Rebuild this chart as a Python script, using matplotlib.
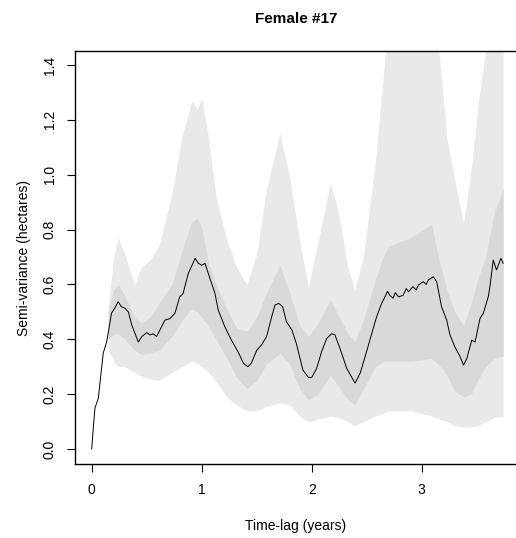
import numpy as np
import matplotlib
matplotlib.use('Agg')
import matplotlib.pyplot as plt

plt.rcParams['font.family'] = ['Liberation Sans', 'DejaVu Sans']

lag = [0, 0.015, 0.03, 0.06, 0.105, 0.136, 0.18, 0.21, 0.24, 0.27, 0.303, 0.333,
       0.364, 0.424, 0.455, 0.50, 0.53, 0.56, 0.59, 0.62, 0.666, 0.71, 0.757, 0.80,
       0.83, 0.878, 0.94, 0.97, 1.0, 1.03, 1.06, 1.12, 1.15, 1.21, 1.27, 1.33, 1.38,
       1.42, 1.45, 1.50, 1.545, 1.59, 1.636, 1.666, 1.70, 1.736, 1.77, 1.82, 1.86,
       1.92, 1.97, 2.0, 2.045, 2.09, 2.136, 2.18, 2.21, 2.257, 2.318, 2.394, 2.44,
       2.485, 2.545, 2.59, 2.636, 2.666, 2.69, 2.71, 2.74, 2.76, 2.79, 2.83, 2.86, 2.88,
       2.92, 2.95, 2.97, 3.015, 3.04, 3.06, 3.105, 3.136, 3.18, 3.227, 3.257, 3.30, 3.35,
       3.38, 3.41, 3.455, 3.485, 3.53, 3.56, 3.605, 3.62, 3.65, 3.68, 3.72, 3.74]
semivar = [0.0, 0.08, 0.15, 0.185, 0.35, 0.39, 0.495, 0.514, 0.537, 0.519, 0.513, 0.50,
           0.452, 0.39, 0.41, 0.424, 0.416, 0.42, 0.41, 0.434, 0.47, 0.475, 0.495, 0.555,
           0.566, 0.64, 0.695, 0.677, 0.67, 0.677, 0.64, 0.568, 0.507, 0.446, 0.397, 0.355, 0.312,
           0.30, 0.312, 0.36, 0.38, 0.41, 0.482, 0.525, 0.531, 0.519, 0.464, 0.434, 0.385,
           0.288, 0.261, 0.261, 0.294, 0.355, 0.403, 0.42, 0.417, 0.367, 0.294, 0.24, 0.276,
           0.336, 0.42, 0.482, 0.531, 0.555, 0.575, 0.56, 0.55, 0.57, 0.555, 0.56, 0.585, 0.573,
           0.592, 0.58, 0.598, 0.61, 0.60, 0.616, 0.628, 0.61, 0.519, 0.47, 0.416, 0.373, 0.336,
           0.306, 0.33, 0.397, 0.39, 0.476, 0.495, 0.555, 0.592, 0.689, 0.653, 0.695, 0.677]

# confidence bands
band_x = [0.15, 0.20, 0.24, 0.30, 0.39, 0.45, 0.53, 0.61, 0.73, 0.82, 0.91, 0.96, 1.00,
          1.06, 1.13, 1.23, 1.32, 1.41, 1.50, 1.59, 1.71, 1.80, 1.89, 1.97, 2.06, 2.17,
          2.24, 2.33, 2.39, 2.47, 2.58, 2.65, 2.70, 2.90, 3.09, 3.15, 3.23, 3.30, 3.38,
          3.45, 3.51, 3.58, 3.66, 3.74]
outer_hi = [0.52, 0.70, 0.77, 0.71, 0.60, 0.66, 0.69, 0.74, 0.93, 1.14, 1.27, 1.24, 1.28,
            1.14, 0.92, 0.76, 0.66, 0.60, 0.71, 0.95, 1.15, 0.99, 0.76, 0.59, 0.76, 0.97,
            0.87, 0.66, 0.58, 0.70, 1.05, 1.35, 1.60, 1.70, 1.65, 1.48, 1.13, 0.98, 0.82,
            1.02, 1.25, 1.45, 1.60, 1.60]
outer_lo = [0.36, 0.32, 0.30, 0.30, 0.28, 0.265, 0.255, 0.25, 0.28, 0.30, 0.32, 0.31, 0.30,
            0.28, 0.245, 0.19, 0.16, 0.14, 0.14, 0.155, 0.17, 0.16, 0.12, 0.10, 0.11, 0.12,
            0.115, 0.10, 0.085, 0.10, 0.12, 0.13, 0.14, 0.14, 0.12, 0.11, 0.10, 0.085, 0.08,
            0.08, 0.085, 0.10, 0.115, 0.12]
inner_hi = [0.50, 0.58, 0.60, 0.56, 0.48, 0.46, 0.48, 0.53, 0.60, 0.72, 0.83, 0.84, 0.81,
            0.68, 0.60, 0.51, 0.44, 0.43, 0.48, 0.57, 0.67, 0.57, 0.45, 0.41, 0.46, 0.545,
            0.49, 0.42, 0.39, 0.47, 0.62, 0.70, 0.74, 0.77, 0.82, 0.70, 0.58, 0.50, 0.45,
            0.53, 0.62, 0.70, 0.86, 0.95]
inner_lo = [0.40, 0.42, 0.42, 0.40, 0.36, 0.345, 0.35, 0.36, 0.41, 0.47, 0.51, 0.50, 0.48,
            0.45, 0.40, 0.33, 0.26, 0.22, 0.25, 0.31, 0.35, 0.31, 0.22, 0.18, 0.20, 0.27,
            0.23, 0.18, 0.16, 0.22, 0.30, 0.32, 0.32, 0.32, 0.33, 0.31, 0.27, 0.21, 0.19,
            0.20, 0.25, 0.30, 0.33, 0.34]

yticks = [0.0, 0.2, 0.4, 0.6, 0.8, 1.0, 1.2, 1.4]
xticks = [0, 1, 2, 3]

fig = plt.figure(figsize=(5.16, 5.38), dpi=100)
ax = fig.add_axes([0.1453, 0.1375, 0.8566, 0.7677])

ax.fill_between(band_x, outer_lo, outer_hi, color='#e9e9e9', lw=0)
ax.fill_between(band_x, inner_lo, inner_hi, color='#d9d9d9', lw=0)
ax.plot(lag, semivar, color='black', lw=0.7)

ax.set_xlim(-0.152, 3.866)
ax.set_ylim(-0.0547, 1.451)
ax.set_xticks(xticks)
ax.set_xticklabels([str(t) for t in xticks])
ax.set_yticks(yticks)
ax.set_yticklabels(['%.1f' % t for t in yticks], rotation=90, va='center')
ax.tick_params(direction='out', length=6, width=0.8, labelsize=10, colors='black')
ax.tick_params(axis='x', pad=8)
ax.tick_params(axis='y', pad=7)
for s in ax.spines.values():
    s.set_linewidth(1.0)

fig.text(0.5736, 0.965, 'Female #17', ha='center', va='center', fontsize=11, fontweight='bold')
fig.text(0.5736, 0.022, 'Time-lag (years)', ha='center', va='center', fontsize=10)
fig.text(0.047, 0.521, 'Semi-variance (hectares)', ha='center', va='center',
         rotation=90, fontsize=10)

fig.savefig('out.png', dpi=100)
